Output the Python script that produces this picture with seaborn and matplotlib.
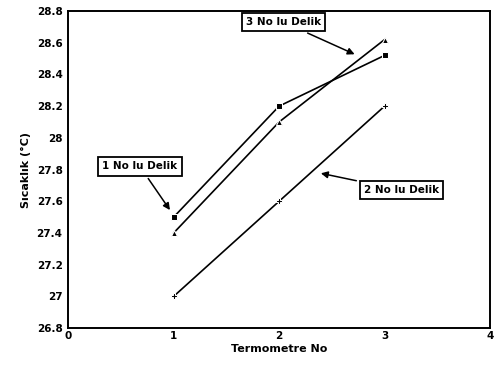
import matplotlib
matplotlib.use("Agg")
import matplotlib.pyplot as plt
import seaborn as sns
import pandas as pd

thermometer = [1, 2, 3]
delik1 = [27.5, 28.2, 28.52]
delik3 = [27.4, 28.1, 28.62]
delik2 = [27.0, 27.6, 28.2]
series_names = ["1 No lu Delik", "3 No lu Delik", "2 No lu Delik"]
yticks = [26.8, 27.0, 27.2, 27.4, 27.6, 27.8, 28.0, 28.2, 28.4, 28.6, 28.8]
ytick_labels = ["26.8", "27", "27.2", "27.4", "27.6", "27.8", "28", "28.2", "28.4", "28.6", "28.8"]
xticks = [0, 1, 2, 3, 4]

sns.set_style("white")
plt.rcParams['font.family'] = ['DejaVu Sans']
plt.rcParams['font.weight'] = 'bold'
plt.rcParams['text.color'] = 'black'
plt.rcParams['axes.labelcolor'] = 'black'
plt.rcParams['xtick.color'] = 'black'
plt.rcParams['ytick.color'] = 'black'

df = pd.DataFrame({
    "x": thermometer * 3,
    "y": delik1 + delik3 + delik2,
    "s": [series_names[0]] * 3 + [series_names[1]] * 3 + [series_names[2]] * 3,
})

fig = plt.figure(figsize=(4.94, 3.67), dpi=100)
ax = fig.add_axes([0.138, 0.106, 0.854, 0.864])
sns.lineplot(data=df, x="x", y="y", hue="s", style="s",
             palette=["black", "black", "black"],
             markers=["s", "^", "P"], dashes=False, markersize=4.5,
             linewidth=1.2, legend=False, ax=ax)

ax.set_xlim(0, 4)
ax.set_ylim(26.8, 28.8)
ax.set_xticks(xticks)
ax.set_xticklabels([str(v) for v in xticks], fontsize=7.5, fontweight='bold')
ax.set_yticks(yticks)
ax.set_yticklabels(ytick_labels, fontsize=7.5, fontweight='bold')
ax.tick_params(axis='y', direction='out', length=3, width=1, pad=1, colors='black')
ax.tick_params(axis='x', direction='in', length=3, width=1, pad=2, colors='black')
ax.set_xlabel("Termometre No", fontsize=8, fontweight='bold', labelpad=2)
ax.set_ylabel("Sıcaklık (°C)", fontsize=8, fontweight='bold', labelpad=4)
for sp in ax.spines.values():
    sp.set_color("black")
    sp.set_linewidth(1.4)

bbox = dict(boxstyle="square,pad=0.4", fc="white", ec="black", lw=1.3)
arrow = dict(arrowstyle="-|>", color="black", lw=1.1, mutation_scale=10)
ax.annotate(series_names[0], xy=(0.98, 27.53), xytext=(0.68, 27.82),
            fontsize=7.5, fontweight='bold', ha='center', va='center',
            color='black', bbox=bbox, arrowprops=arrow)
ax.annotate(series_names[1], xy=(2.74, 28.52), xytext=(2.04, 28.73),
            fontsize=7.5, fontweight='bold', ha='center', va='center',
            color='black', bbox=bbox, arrowprops=arrow)
ax.annotate(series_names[2], xy=(2.37, 27.78), xytext=(3.16, 27.67),
            fontsize=7.5, fontweight='bold', ha='center', va='center',
            color='black', bbox=bbox, arrowprops=arrow)

fig.savefig("out.png", dpi=100)
